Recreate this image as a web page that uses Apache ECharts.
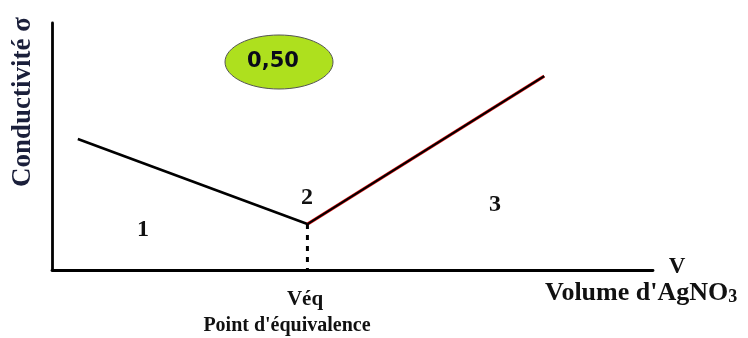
<!DOCTYPE html>
<html>
<head>
<meta charset="utf-8">
<script src="https://cdn.jsdelivr.net/npm/echarts@6/dist/echarts.min.js"></script>
<style>html,body{margin:0;padding:0;background:#fff;}#c{width:748px;height:338px;}</style>
</head>
<body>
<div id="c"></div>
<script>
// Data (arbitrary units)
const segment1X = [4.3, 42.5];
const segment1Y = [53.0, 18.6];
const segment2X = [42.5, 81.9];
const segment2Y = [18.6, 78.5];
const veqX = 42.5;
const regionLabels = ['1', '2', '3'];

const chart = echarts.init(document.getElementById('c'));
const pts = (xs, ys) => xs.map((x, i) => [x, ys[i]]);
const serif = '"Liberation Serif", "Times New Roman", serif';

chart.setOption({
  animation: false,
  backgroundColor: '#fff',
  grid: { left: 52, right: 95, top: 23, bottom: 68 },
  xAxis: {
    type: 'value', min: 0, max: 100,
    axisLine: { show: true, onZero: false, lineStyle: { color: '#000', width: 2.8 } },
    axisTick: { show: false }, axisLabel: { show: false }, splitLine: { show: false }
  },
  yAxis: {
    type: 'value', min: 0, max: 100,
    axisLine: { show: true, onZero: false, lineStyle: { color: '#000', width: 2.8 } },
    axisTick: { show: false }, axisLabel: { show: false }, splitLine: { show: false }
  },
  series: [
    { type: 'line', data: pts(segment1X, segment1Y), symbol: 'none',
      lineStyle: { color: '#000', width: 2.6 } },
    { type: 'line', data: pts(segment2X, segment2Y), symbol: 'none',
      lineStyle: { color: '#e01010', width: 3.2 } },
    { type: 'line', data: pts(segment2X, segment2Y), symbol: 'none',
      lineStyle: { color: '#000', width: 2 } },
    { type: 'line', data: [[veqX, segment1Y[1]], [veqX, 0]], symbol: 'none',
      lineStyle: { color: '#000', width: 3, type: [5, 6] } }
  ],
  graphic: [
    { type: 'ellipse', shape: { cx: 279, cy: 62, rx: 54, ry: 27 },
      style: { fill: '#aee01e', stroke: '#555', lineWidth: 1 } },
    { type: 'text', x: 273, y: 62,
      style: { text: '0,50', font: 'bold 21px "DejaVu Sans", Verdana, sans-serif', fill: '#0a0a1a', align: 'center', verticalAlign: 'middle' } },
    { type: 'text', x: 23, y: 102, rotation: Math.PI / 2,
      style: { text: 'Conductivité σ', font: 'bold 27px ' + serif, fill: '#1a1f3a', align: 'center', verticalAlign: 'middle' } },
    { type: 'text', x: 143, y: 230,
      style: { text: regionLabels[0], font: 'bold 24px ' + serif, fill: '#111', align: 'center', verticalAlign: 'middle' } },
    { type: 'text', x: 307, y: 198,
      style: { text: regionLabels[1], font: 'bold 24px ' + serif, fill: '#111', align: 'center', verticalAlign: 'middle' } },
    { type: 'text', x: 495, y: 205,
      style: { text: regionLabels[2], font: 'bold 24px ' + serif, fill: '#111', align: 'center', verticalAlign: 'middle' } },
    { type: 'text', x: 677, y: 267,
      style: { text: 'V', font: 'bold 23px ' + serif, fill: '#111', align: 'center', verticalAlign: 'middle' } },
    { type: 'text', x: 545, y: 293,
      style: { text: "{a|Volume d'AgNO}{s|3}", align: 'left', verticalAlign: 'middle',
        rich: {
          a: { font: 'bold 26px ' + serif, fill: '#111' },
          s: { font: 'bold 18px ' + serif, fill: '#111', padding: [9, 0, 0, 0] }
        } } },
    { type: 'text', x: 305, y: 300,
      style: { text: 'Véq', font: 'bold 21px ' + serif, fill: '#111', align: 'center', verticalAlign: 'middle' } },
    { type: 'text', x: 287, y: 326,
      style: { text: "Point d'équivalence", font: 'bold 20px ' + serif, fill: '#111', align: 'center', verticalAlign: 'middle' } }
  ]
});
</script>
</body>
</html>
